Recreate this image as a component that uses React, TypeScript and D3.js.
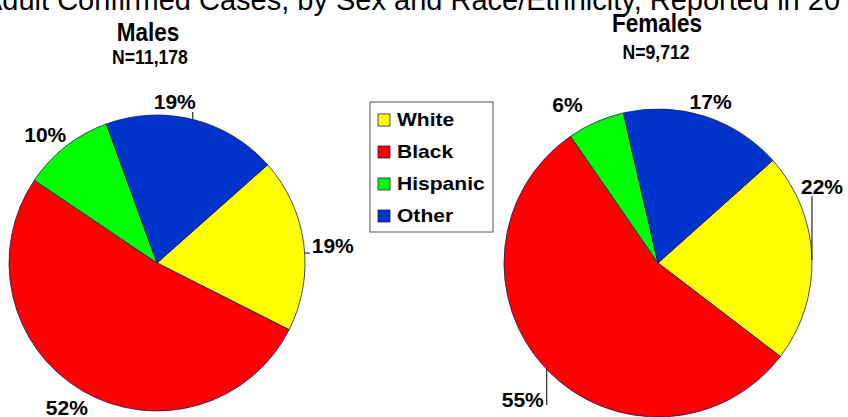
import React from "react";
import * as d3 from "d3";

// Race/ethnicity groups, in slice order (clockwise)
const groups = ["White", "Black", "Hispanic", "Other"];
const groupColors = ["#FFFF00", "#FF0000", "#00FF00", "#0033CC"];

// Percent of adult confirmed cases
const maleShares = [19, 52, 10, 19];
const femaleShares = [22, 55, 6, 17];

const maleTitle = "Males";
const maleCount = "N=11,178";
const femaleTitle = "Females";
const femaleCount = "N=9,712";
const chartTitle = "Adult Confirmed Cases, by Sex and Race/Ethnicity, Reported in 20";

const W = 848;
const H = 417;
const FONT = "Arial, 'Liberation Sans', Helvetica, sans-serif";

type Leader = { kind: "v" | "h"; at: number; from: number };

type PieLayout = {
  cx: number;
  cy: number;
  r: number;
  startDeg: number;
  title: string;
  count: string;
  titleX: number;
  titleY: number;
  countX: number;
  countY: number;
  // label nudges from the default outside position, per slice
  nudges: [number, number][];
  leaders: (Leader | null)[];
};

const pies: { shares: number[]; layout: PieLayout }[] = [
  {
    shares: maleShares,
    layout: {
      cx: 157,
      cy: 263,
      r: 148,
      startDeg: 48.4,
      title: maleTitle,
      count: maleCount,
      titleX: 148,
      titleY: 41,
      countX: 150,
      countY: 64,
      nudges: [[7, 4], [-4, -2], [-7, 6], [-24, 3]],
      leaders: [
        { kind: "h", at: 8, from: -23 },
        null,
        null,
        { kind: "v", at: 18, from: 11 },
      ],
    },
  },
  {
    shares: femaleShares,
    layout: {
      cx: 658,
      cy: 263,
      r: 154,
      startDeg: 48.2,
      title: femaleTitle,
      count: femaleCount,
      titleX: 657,
      titleY: 32,
      countX: 656,
      countY: 59,
      nudges: [[-13, -70], [-7, 14], [-19, 3], [-1, 7]],
      leaders: [
        { kind: "v", at: -10, from: 10 },
        { kind: "v", at: 24, from: 6 },
        null,
        null,
      ],
    },
  },
];

function PieChart({ shares, layout }: { shares: number[]; layout: PieLayout }) {
  const start = (layout.startDeg * Math.PI) / 180;
  const pie = d3
    .pie<number>()
    .sort(null)
    .value((d) => d)
    .startAngle(start)
    .endAngle(start + 2 * Math.PI);
  const arcs = pie(shares);
  const arc = d3.arc<d3.PieArcDatum<number>>().innerRadius(0).outerRadius(layout.r);
  const labelArc = d3
    .arc<d3.PieArcDatum<number>>()
    .innerRadius(layout.r * 1.15)
    .outerRadius(layout.r * 1.15);

  return (
    <g>
      <g transform={`translate(${layout.cx},${layout.cy})`}>
        {arcs.map((a, i) => (
          <path
            key={groups[i]}
            d={arc(a) || ""}
            fill={groupColors[i]}
            stroke="#1A1A66"
            strokeWidth={0.8}
            strokeLinejoin="round"
          />
        ))}
        {arcs.map((a, i) => {
          const [x0, y0] = labelArc.centroid(a);
          const [nx, ny] = layout.nudges[i];
          const x = x0 + nx;
          const y = y0 + ny;
          const leader = layout.leaders[i];
          let line: React.ReactNode = null;
          if (leader) {
            const r = layout.r;
            if (leader.kind === "v") {
              const lx = x + leader.at;
              const yFrom = y + leader.from;
              const h = Math.sqrt(Math.max(0, r * r - lx * lx));
              const yEdge = yFrom < 0 ? -h : h;
              line = <line x1={lx} y1={yFrom} x2={lx} y2={yEdge} stroke="#000" strokeWidth={1} />;
            } else {
              const ly = y + leader.at;
              const xFrom = x + leader.from;
              const w = Math.sqrt(Math.max(0, r * r - ly * ly));
              const xEdge = xFrom < 0 ? -w : w;
              line = <line x1={xFrom} y1={ly} x2={xEdge} y2={ly} stroke="#000" strokeWidth={1} />;
            }
          }
          return (
            <g key={`lab-${groups[i]}`}>
              {line}
              <text
                x={x}
                y={y}
                dy="0.36em"
                textAnchor="middle"
                fontFamily={FONT}
                fontWeight="bold"
                fontSize={21}
                fill="#000"
              >
                {`${a.data}%`}
              </text>
            </g>
          );
        })}
      </g>
      <text
        transform={`translate(${layout.titleX},${layout.titleY}) scale(0.9,1)`}
        textAnchor="middle"
        fontFamily={FONT}
        fontWeight="bold"
        fontSize={25}
        fill="#000"
      >
        {layout.title}
      </text>
      <text
        transform={`translate(${layout.countX},${layout.countY}) scale(0.88,1)`}
        textAnchor="middle"
        fontFamily={FONT}
        fontWeight="bold"
        fontSize={20}
        fill="#000"
      >
        {layout.count}
      </text>
    </g>
  );
}

function Legend() {
  const x0 = 370;
  const y0 = 102;
  const rowH = 32;
  const rows = d3.range(groups.length);
  return (
    <g>
      <rect x={x0} y={y0} width={123} height={130} fill="#fff" stroke="#555" strokeWidth={1} />
      {rows.map((i) => {
        const cy = y0 + 18 + i * rowH;
        return (
          <g key={groups[i]}>
            <rect
              x={x0 + 8}
              y={cy - 6}
              width={12}
              height={12}
              fill={groupColors[i]}
              stroke="#1A1A66"
              strokeWidth={0.8}
            />
            <text
              transform={`translate(${x0 + 27},${cy}) scale(1.17,1)`}
              dy="0.36em"
              fontFamily={FONT}
              fontWeight="bold"
              fontSize={18}
              fill="#000"
            >
              {groups[i]}
            </text>
          </g>
        );
      })}
    </g>
  );
}

export default function App() {
  return (
    <svg
      width={W}
      height={H}
      viewBox={`0 0 ${W} ${H}`}
      style={{ position: "absolute", left: 0, top: 0, background: "#fff", overflow: "hidden" }}
    >
      <rect width={W} height={H} fill="#fff" />
      <text x={-17} y={10} fontFamily={FONT} fontSize={29} fill="#000">
        {chartTitle}
      </text>
      {pies.map((p, i) => (
        <PieChart key={i} shares={p.shares} layout={p.layout} />
      ))}
      <Legend />
    </svg>
  );
}
